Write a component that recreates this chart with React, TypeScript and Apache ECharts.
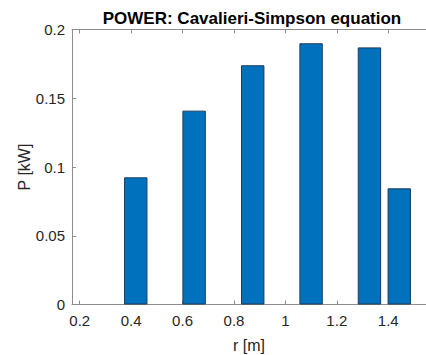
import React, { useEffect, useRef } from "react";
import * as echarts from "echarts";

const titleText = "POWER: Cavalieri-Simpson equation";
const xName = "r [m]";
const yName = "P [kW]";
const radius = [0.418, 0.645, 0.873, 1.1, 1.327, 1.443];
const power = [0.0925, 0.141, 0.174, 0.19, 0.187, 0.0845];
const xRange = [0.17, 1.547];
const yRange = [0, 0.2];

export default function App() {
  const ref = useRef<HTMLDivElement>(null);
  useEffect(() => {
    if (!ref.current) return;
    const chart = echarts.init(ref.current, null, { renderer: "svg" });
    const font = "Liberation Sans, Arial, Helvetica, sans-serif";
    const axisColor = "#8c8c8c";
    const labelColor = "#262626";
    const data = radius.map((r, i) => [r, power[i]]);
    chart.setOption({
      animation: false,
      backgroundColor: "#ffffff",
      textStyle: { fontFamily: font },
      title: {
        text: titleText,
        left: 247,
        textAlign: "center",
        top: 5,
        textStyle: { fontFamily: font, fontSize: 17, fontWeight: "bold", color: "#000000" },
      },
      grid: {
        left: 72,
        right: 0,
        top: 29.5,
        bottom: 50.5,
        containLabel: false,
        outerBoundsMode: "none",
      },
      xAxis: [
        {
          type: "value",
          min: xRange[0],
          max: xRange[1],
          splitNumber: 7,
          minInterval: 0.2,
          maxInterval: 0.2,
          name: xName,
          nameLocation: "middle",
          nameGap: 33,
          nameMoveOverlap: false,
          nameTextStyle: { fontFamily: font, fontSize: 16, color: labelColor },
          axisLine: { show: true, lineStyle: { color: axisColor, width: 1 } },
          axisTick: { show: true, inside: true, length: 4, lineStyle: { color: axisColor } },
          axisLabel: {
            fontFamily: font,
            fontSize: 15,
            color: labelColor,
            margin: 8,
            showMinLabel: false,
            showMaxLabel: false,
          },
          splitLine: { show: false },
        },
        {
          type: "value",
          position: "top",
          min: xRange[0],
          max: xRange[1],
          splitNumber: 7,
          minInterval: 0.2,
          maxInterval: 0.2,
          axisLine: { show: true, lineStyle: { color: axisColor, width: 1 } },
          axisTick: { show: true, inside: true, length: 4, lineStyle: { color: axisColor } },
          axisLabel: { show: false },
          splitLine: { show: false },
        },
      ],
      yAxis: [
        {
          type: "value",
          min: yRange[0],
          max: yRange[1],
          interval: 0.05,
          name: yName,
          nameLocation: "middle",
          nameGap: 40,
          nameRotate: 90,
          nameMoveOverlap: false,
          nameTextStyle: { fontFamily: font, fontSize: 16, color: labelColor },
          axisLine: { show: true, lineStyle: { color: axisColor, width: 1 } },
          axisTick: { show: true, inside: true, length: 4, lineStyle: { color: axisColor } },
          axisLabel: { fontFamily: font, fontSize: 15, color: labelColor, margin: 7 },
          splitLine: { show: false },
        },
      ],
      series: [
        {
          type: "bar",
          xAxisIndex: 0,
          yAxisIndex: 0,
          data,
          barWidth: 23.4,
          itemStyle: { color: "#0072BD", borderColor: "#1d3b5c", borderWidth: 1 },
        },
      ],
    });
    return () => chart.dispose();
  }, []);
  return <div ref={ref} style={{ width: 426, height: 355, position: "absolute", left: 0, top: 0 }} />;
}
